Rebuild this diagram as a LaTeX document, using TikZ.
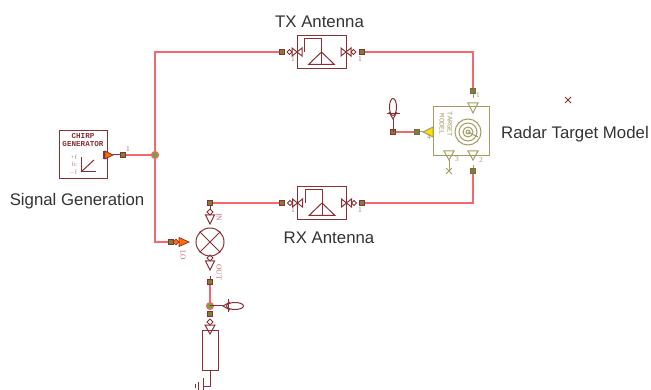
\documentclass[tikz,border=0pt]{standalone}
\usepackage{fontspec}
\setmainfont{Liberation Sans}
\newfontfamily\slabfont{Liberation Mono}
\newfontfamily\pinfont{Liberation Serif}
\usepackage{tikz}
\definecolor{wirered}{HTML}{F2686C}
\definecolor{symred}{HTML}{8A2F35}
\definecolor{tan}{HTML}{A39C63}
\definecolor{portgreen}{HTML}{7E7F35}
\definecolor{dotgreen}{HTML}{6FA53A}
\tikzset{
  wire/.style={wirered,line width=1.4pt},
  sym/.style={symred,line width=1pt},
  tansym/.style={tan,line width=1pt},
  portsq/.style={draw=symred,fill=portgreen,line width=0.8pt,minimum size=5.5pt,inner sep=0pt},
  tanport/.style={draw=tan!70!black,fill=portgreen,line width=0.8pt,minimum size=5.5pt,inner sep=0pt},
  junct/.style={circle,draw=wirered,fill=dotgreen,line width=1.2pt,minimum size=7pt,inner sep=0pt},
  title/.style={font=\fontsize{16.8}{19}\selectfont,text=black!80,inner sep=0pt},
  pinlabel/.style={font=\fontsize{7.5}{8}\selectfont\pinfont,text=#1,inner sep=0pt},
  pinlabel/.default=symred!70,
  bowpin/.pic={
    \draw[sym] (0,0) -- (5,-4) -- (5,4) -- cycle;
    \draw[sym] (0,0) -- (-5,-4) -- (-5,4) -- cycle;
    \draw[sym] (5,0) -- (7.5,-2.5) -- (10,0) -- (7.5,2.5) -- cycle;
  },
  trisym/.pic={
    \draw[sym] (0,-4.5) -- (9,0) -- (0,4.5) -- cycle;
    \draw[sym] (-6,0) -- (-3,-3) -- (0,0) -- (-3,3) -- cycle;
  },
  probe/.pic={
    \draw[sym] (0,0) -- (13,0);
    \draw[sym] (18,-6.5) -- (18,6.5);
    \draw[sym] (20,-4) -- (13,0) -- (20,4);
    \draw[sym] (25,0) ellipse (8.5 and 3.5);
  },
  antennabox/.pic={
    \draw[sym] (-24.5,-16.5) rectangle (24.5,16.5);
    \draw[sym] (-17,0) -- (-17,-13) -- (0,-13) -- (0,12.5);
    \draw[sym] (0,0) -- (-13,12.5) -- (13,12.5) -- cycle;
    \pic at (-24.5,0) [rotate=180] {bowpin};
    \pic at (24.5,0) {bowpin};
  }
}
\begin{document}
\begin{tikzpicture}[x=1pt,y=-1pt]
  \useasboundingbox (0,0) rectangle (651,390);
  % titles
  \node[title] (txtitle) at (319.5,22) {TX Antenna};
  \node[title] (rxtitle) at (329,238) {RX Antenna};
  \node[title] (gentitle) at (77,201.5) {Signal Generation};
  \node[title] (targettitle) at (575,134) {Radar Target Model};
  % corners of the wires
  \coordinate (topleft) at (155,52);
  \coordinate (lowleft) at (155,242);
  \coordinate (topright) at (473,52);
  \coordinate (lowright) at (473,203);
  \coordinate (gndcorner) at (210,386);
  % ports and junctions
  \node[portsq] (genout) at (123,155) {};
  \node[portsq] (txin) at (282,52) {};
  \node[portsq] (txout) at (362,52) {};
  \node[portsq] (rxin) at (282,203) {};
  \node[portsq] (rxout) at (362,203) {};
  \node[tanport] (tgttop) at (473,91) {};
  \node[tanport] (tgtbot) at (473,171) {};
  \node[tanport] (tgtleft) at (417,132) {};
  \node[portsq] (tgtprobe) at (393,132) {};
  \node[portsq] (mixlo) at (171,242) {};
  \node[portsq] (mixin) at (210,203) {};
  \node[portsq] (mixout) at (210,282) {};
  \node[portsq] (resin) at (210,314) {};
  \node[junct] (genjoin) at (155,155) {};
  \node[junct] (mixjoin) at (210,306) {};
  % wires
  \draw[wire] (genjoin) -- (topleft) -- (txin);
  \draw[wire] (genjoin) -- (lowleft) -- (mixlo);
  \draw[wire] (genout) -- (genjoin);
  \draw[wire] (txout) -- (topright) -- (tgttop);
  \draw[wire] (tgtbot) -- (lowright) -- (rxout);
  \draw[wire] (rxin) -- (mixin);
  \draw[wire] (mixout) -- (mixjoin);
  \draw[wire] (tgtprobe) -- (tgtleft);
  % antennas
  \pic at (321.5,52) {antennabox};
  \pic at (322,203) {antennabox};
  \node[pinlabel] (txlab) at (293,59.5) {1};
  \node[pinlabel] (txlabb) at (360,59.5) {1};
  \node[pinlabel] (rxlab) at (293,210.5) {1};
  \node[pinlabel] (rxlabb) at (360,210.5) {1};
  % chirp generator
  \draw[sym] (59,131) rectangle (107,179);
  \node[inner sep=0pt,text=symred,align=center,font=\fontsize{7.6}{7.6}\selectfont\slabfont\bfseries] (genname) at (83,140)
    {CHIRP\\GENERATOR};
  \node[inner sep=0pt,text=symred!60,align=right,font=\fontsize{6.5}{7.5}\selectfont\pinfont] (genaxis) at (73,165) {+f\\fc\\$-$f};
  \draw[sym] (81,157) -- (81,172) -- (96,172);
  \draw[sym] (81,172) -- (94,160);
  \draw[symred,line width=2pt] (104,151) -- (104,159);
  \draw[symred,fill=orange!85!red,line width=0.7pt] (105,151) -- (113,155) -- (105,159) -- cycle;
  \draw[sym] (113,155) -- (genout);
  \node[pinlabel] (genlab) at (128,149.5) {1};
  % mixer
  \node[circle,draw=symred,line width=1pt,minimum size=28pt,inner sep=0pt] (mixer) at (210,242) {};
  \draw[sym] (mixer.45) -- (mixer.225);
  \draw[sym] (mixer.135) -- (mixer.315);
  \pic at (210,215) [rotate=-90] {trisym};
  \pic at (210,261) [rotate=-90] {trisym};
  \draw[sym] (mixin) -- (210,209);
  \draw[sym] (mixout) -- (210,276);
  \draw[symred,fill=orange!85!red,line width=0.7pt] (179,237.5) -- (189,242) -- (179,246.5) -- cycle;
  \draw[symred,fill=orange!85!red,line width=0.7pt] (173,242) -- (176,239) -- (179,242) -- (176,245) -- cycle;
  \node[pinlabel,rotate=-90] (lolab) at (183,255) {LO};
  \node[pinlabel,rotate=-90] (inlab) at (219,217) {IN};
  \node[pinlabel,rotate=-90] (outlab) at (219,272) {OUT};
  % probes
  \pic at (mixjoin) {probe};
  \pic at (tgtprobe) [rotate=90] {probe};
  % load
  \draw[sym] (202,330) rectangle (218,370);
  \draw[sym] (205,325) -- (210,334) -- (215,325) -- cycle;
  \draw[sym] (210,319) -- (213,322) -- (210,325) -- (207,322) -- cycle;
  \draw[sym] (210,370) -- (gndcorner) -- (203,386);
  \draw[sym] (203,378) -- (203,390);
  \draw[sym] (198,382) -- (198,390);
  \draw[sym] (195,384) -- (195,388);
  % target model
  \draw[tansym] (433,107) rectangle (489,156);
  \node[pinlabel=tan,rotate=-90,align=center,font=\fontsize{7}{8}\selectfont\slabfont] (tgtname) at (446,124.5) {TARGET\\MODEL};
  \draw[tansym] (468,132) circle (13) circle (9) circle (5);
  \draw[tansym] (468,132) circle (2);
  \draw[tansym] (468,132) -- (478,137);
  \draw[tansym] (tgttop) -- (473,98);
  \draw[tansym] (468,103) -- (478,103) -- (473,113) -- cycle;
  \draw[tansym] (tgtbot) -- (473,165);
  \draw[tansym] (468,151) -- (478,151) -- (473,160) -- cycle;
  \draw[tansym] (449,160) -- (449,170);
  \draw[tansym] (444,151) -- (454,151) -- (449,160) -- cycle;
  \draw[tansym] (446,168) -- (452,174);
  \draw[tansym] (452,168) -- (446,174);
  \draw[tansym,fill=yellow!80!orange] (433,127) -- (433,137) -- (423,132) -- cycle;
  \draw[tansym] (423,132) -- (tgtleft);
  \node[pinlabel=tan] (tgtlaba) at (478,95) {1};
  \node[pinlabel=tan] (tgtlabb) at (481,160) {2};
  \node[pinlabel=tan] (tgtlabc) at (457,159) {3};
  \node[pinlabel=tan] (tgtlabd) at (429,137.5) {4};
  % marker
  \draw[symred,line width=0.8pt] (565,97) -- (571,103);
  \draw[symred,line width=0.8pt] (571,97) -- (565,103);
\end{tikzpicture}
\end{document}
